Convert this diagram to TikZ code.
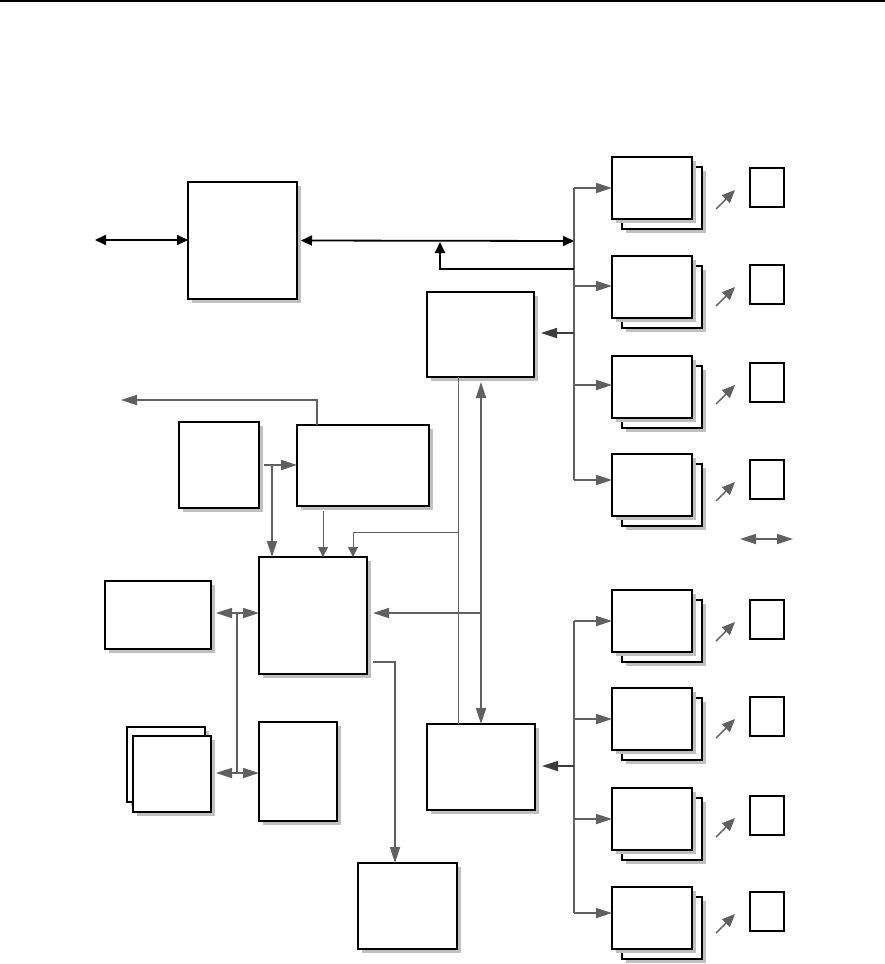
\documentclass[tikz,border=0pt]{standalone}
\usetikzlibrary{arrows.meta}
\definecolor{conn}{RGB}{96,96,96}
\definecolor{darkconn}{RGB}{60,60,60}
\definecolor{shadegray}{RGB}{192,192,192}
\tikzset{
  boxnode/.style={draw=black, fill=white, line width=1.4pt, inner sep=0pt, outer sep=0pt, anchor=north west},
  sqnode/.style={draw=black, fill=white, line width=1.8pt, inner sep=0pt, outer sep=0pt, anchor=north west, minimum width=34pt, minimum height=39pt},
  gline/.style={draw=conn, line width=1.7pt},
  dline/.style={draw=darkconn, line width=1.7pt},
  thinline/.style={draw=conn, line width=1pt},
  bline/.style={draw=black, line width=1.8pt},
  gtip/.tip={Triangle[length=16pt,width=10pt]},
  btip/.tip={Triangle[length=11pt,width=10pt]},
  ttip/.tip={Triangle[length=10pt,width=10pt]},
  dtip/.tip={Triangle[length=13pt,width=11pt]},
}
\newcommand\bx[5]{%
  \fill[shadegray] ({(#2)+4},{(#3)+4}) rectangle ({(#4)+4},{(#5)+4});
  \node[boxnode, minimum width={((#4)-(#2))*1pt}, minimum height={((#5)-(#3))*1pt}] (#1) at ({#2},{#3}) {};}
\begin{document}
\begin{tikzpicture}[x=1pt,y=-1pt]
\useasboundingbox (0,0) rectangle (885,964);
% top rule
\coordinate (tl) at (0,1);
\coordinate (tr) at (885,1);
\draw[black, line width=2.6pt] (tl) -- (tr);

% main boxes
\bx{A}{188}{182}{297}{299}
\bx{C}{427}{292}{534}{377}
\bx{F}{179}{422}{259}{508}
\bx{G}{297}{425}{429}{506}
\bx{E}{259}{557}{367}{674}
\bx{H}{105}{581}{211}{649}
\bx{Ib}{127}{727}{205}{802}
\bx{If}{133}{736}{211}{812}
\bx{J}{259}{722}{337}{821}
\bx{D}{427}{724}{535}{810}
\bx{K}{358}{863}{457}{949}

% right column
\foreach \t/\b/\s [count=\i] in {157/188/168, 256/286/265, 356/385/363, 454/480/460, 590/621/600, 688/719/697, 788/819/796, 887/913/892} {
  \bx{rb\i}{622}{\t+10}{702}{\t+72}
  \bx{rf\i}{612}{\t}{692}{\t+62}
  \node[sqnode] (sq\i) at (750,\s) {};
  \coordinate (bb\i) at (574,\b);
  \draw[gline,-{gtip}] (bb\i) -- (rf\i.west |- bb\i);
  \coordinate (ds\i) at (716,\s+41);
  \coordinate (de\i) at (735,\s+22);
  \draw[gline,line width=1.4pt,-{dtip}] (ds\i) -- (de\i);
}
\draw[gline] (bb1) -- (bb4);
\draw[gline] (bb5) -- (bb8);

% A connections
\coordinate (lA) at (95,240);
\draw[bline,{btip}-{btip}] (lA) -- (A.west |- lA);
\coordinate (busA) at (574,241);
\draw[bline,{btip}-{btip}] ([xshift=4pt]A.east) -- (busA);
\coordinate (ret) at (574,269);
\coordinate (retc) at (440,269);
\coordinate (rett) at (440,242);
\draw[bline,-{btip}] (ret) -- (retc) -- (rett);

% bus to C and D
\coordinate (busC) at (574,333);
\draw[dline,-{gtip}] (busC) -- ([xshift=7pt]C.east |- busC);
\coordinate (busD) at (574,766);
\draw[dline,-{gtip}] (busD) -- ([xshift=7pt]D.east |- busD);

% C - D links
\coordinate (cdx) at (458,0);
\draw[thinline] (C.south -| cdx) -- (D.north -| cdx);
\coordinate (cdy) at (481,0);
\draw[gline,{gtip}-{gtip}] ([yshift=-5pt]C.south -| cdy) -- (D.north -| cdy);
\coordinate (jE) at (481,613);
\draw[gline,-{gtip}] (jE) -- ([xshift=6pt]E.east |- jE);
\coordinate (jT) at (458,532);
\coordinate (tT) at (353,532);
\draw[thinline,-{ttip}] (jT) -- (tT) -- (E.north -| tT);

% G connections
\coordinate (gx) at (323,0);
\draw[thinline,-{ttip}] ([yshift=-5pt]G.south -| gx) -- (E.north -| gx);
\coordinate (gy) at (317,400);
\coordinate (outL) at (121,400);
\draw[gline,-{gtip}] (G.north -| gy) -- (gy) -- (outL);

% F connections
\draw[gline,-{gtip}] ([xshift=5pt]F.east) -- (G.west |- F.east);
\coordinate (fd) at (272,465);
\draw[gline,-{gtip}] (fd) -- (E.north -| fd);

% H, I, J, E
\coordinate (hy) at (237,613);
\coordinate (iy) at (237,773);
\draw[gline] (hy) -- (iy);
\draw[gline,{gtip}-{gtip}] ([xshift=5pt]H.east |- hy) -- (E.west |- hy);
\draw[gline,{gtip}-{gtip}] ([xshift=5pt]If.east |- iy) -- (J.west |- iy);

% E to K
\coordinate (ek) at (395,662);
\draw[gline,-{gtip}] ([xshift=6pt]E.east |- ek) -- (ek) -- (K.north -| ek);

% legend arrow
\coordinate (lg1) at (740,539);
\coordinate (lg2) at (793,539);
\draw[gline,{gtip}-{gtip}] (lg1) -- (lg2);
\end{tikzpicture}
\end{document}
